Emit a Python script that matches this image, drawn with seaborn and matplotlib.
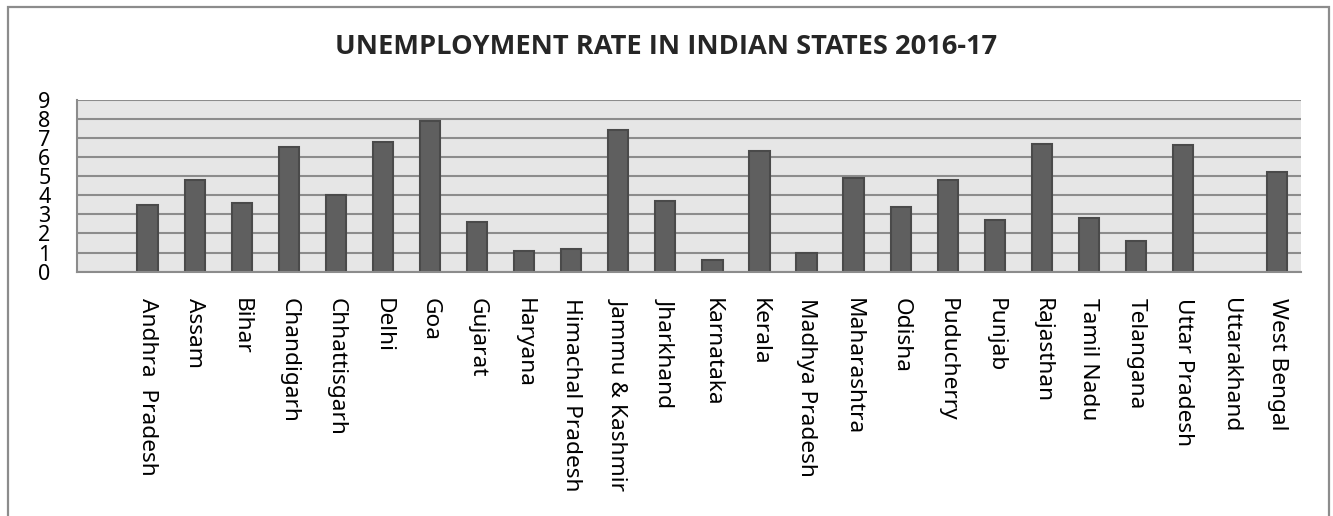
import numpy as np
import pandas as pd
import matplotlib
matplotlib.use("Agg")
import matplotlib.pyplot as plt
import matplotlib.patches as mpatches
import seaborn as sns

states = ["Andhra  Pradesh", "Assam", "Bihar", "Chandigarh", "Chhattisgarh", "Delhi", "Goa",
          "Gujarat", "Haryana", "Himachal Pradesh", "Jammu & Kashmir", "Jharkhand", "Karnataka",
          "Kerala", "Madhya Pradesh", "Maharashtra", "Odisha", "Puducherry", "Punjab", "Rajasthan",
          "Tamil Nadu", "Telangana", "Uttar Pradesh", "Uttarakhand", "West Bengal"]
rates = [3.5, 4.8, 3.6, 6.5, 4.0, 6.8, 7.9, 2.6, 1.1, 1.2, 7.4, 3.7, 0.6, 6.3, 1.0, 4.9,
         3.4, 4.8, 2.7, 6.7, 2.8, 1.6, 6.6, np.nan, 5.2]
yticks = list(range(0, 10))
title = "UNEMPLOYMENT RATE IN INDIAN STATES 2016-17"

df = pd.DataFrame({"state": states, "rate": rates})

sns.set_theme(style="white")
plt.rcParams["font.family"] = ["Noto Sans", "DejaVu Sans"]

W, H = 1333, 516
fig = plt.figure(figsize=(W / 100, H / 100), dpi=100)
ax = fig.add_axes([77 / W, 1 - 271.7 / H, (1300.7 - 77) / W, (271.7 - 99.5) / H])

grid_c = "#8c8c8c"
sns.barplot(data=df, x="state", y="rate", order=states, color="#5f5f5f",
            width=0.43, edgecolor="#4a4a4a", linewidth=1.5, saturation=1, ax=ax, zorder=3)

ax.set_facecolor("#e6e6e6")
ax.set_xlim(-1.5, len(states) - 0.5)
ax.set_ylim(0, 9)
ax.set_yticks(yticks)
ax.set_yticklabels([str(v) for v in yticks], fontsize=15.5)
ax.yaxis.grid(True, color=grid_c, linewidth=1.5, zorder=1)
ax.set_axisbelow(True)
ax.set_xlabel("")
ax.set_ylabel("")

ax.set_xticks(range(len(states)))
ax.set_xticklabels(states, rotation=270, fontsize=16.3, va="top", ha="center")
ax.set_xticks(np.arange(-1.5, len(states), 1), minor=True)
ax.tick_params(axis="x", which="major", length=0, pad=19, colors="black")
ax.tick_params(axis="x", which="minor", length=6, width=1.5, color=grid_c, direction="out")
ax.tick_params(axis="y", which="major", length=9, width=1.5, color=grid_c, direction="out",
               pad=10, labelcolor="black")

for s in ["top", "right"]:
    ax.spines[s].set_visible(False)
for s in ["left", "bottom"]:
    ax.spines[s].set_color(grid_c)
    ax.spines[s].set_linewidth(1.5)
ax.spines["bottom"].set_zorder(4)

# title, sized to match reference width
t = fig.text(0.5, 1 - 54.3 / H, title, ha="center", va="baseline",
             fontsize=16, fontweight="bold", family=["Open Sans", "DejaVu Sans"])
fig.canvas.draw()
bb = t.get_window_extent()
t.set_fontsize(16 * 662 / bb.width)

# outer frame
frame = mpatches.Rectangle((8 / W, -0.02), (1329 - 8) / W, (516 - 7) / H + 0.02,
                           transform=fig.transFigure, fill=False, edgecolor=grid_c,
                           linewidth=1.6, zorder=0)
fig.patches.append(frame)

fig.savefig("out.png", dpi=100)
